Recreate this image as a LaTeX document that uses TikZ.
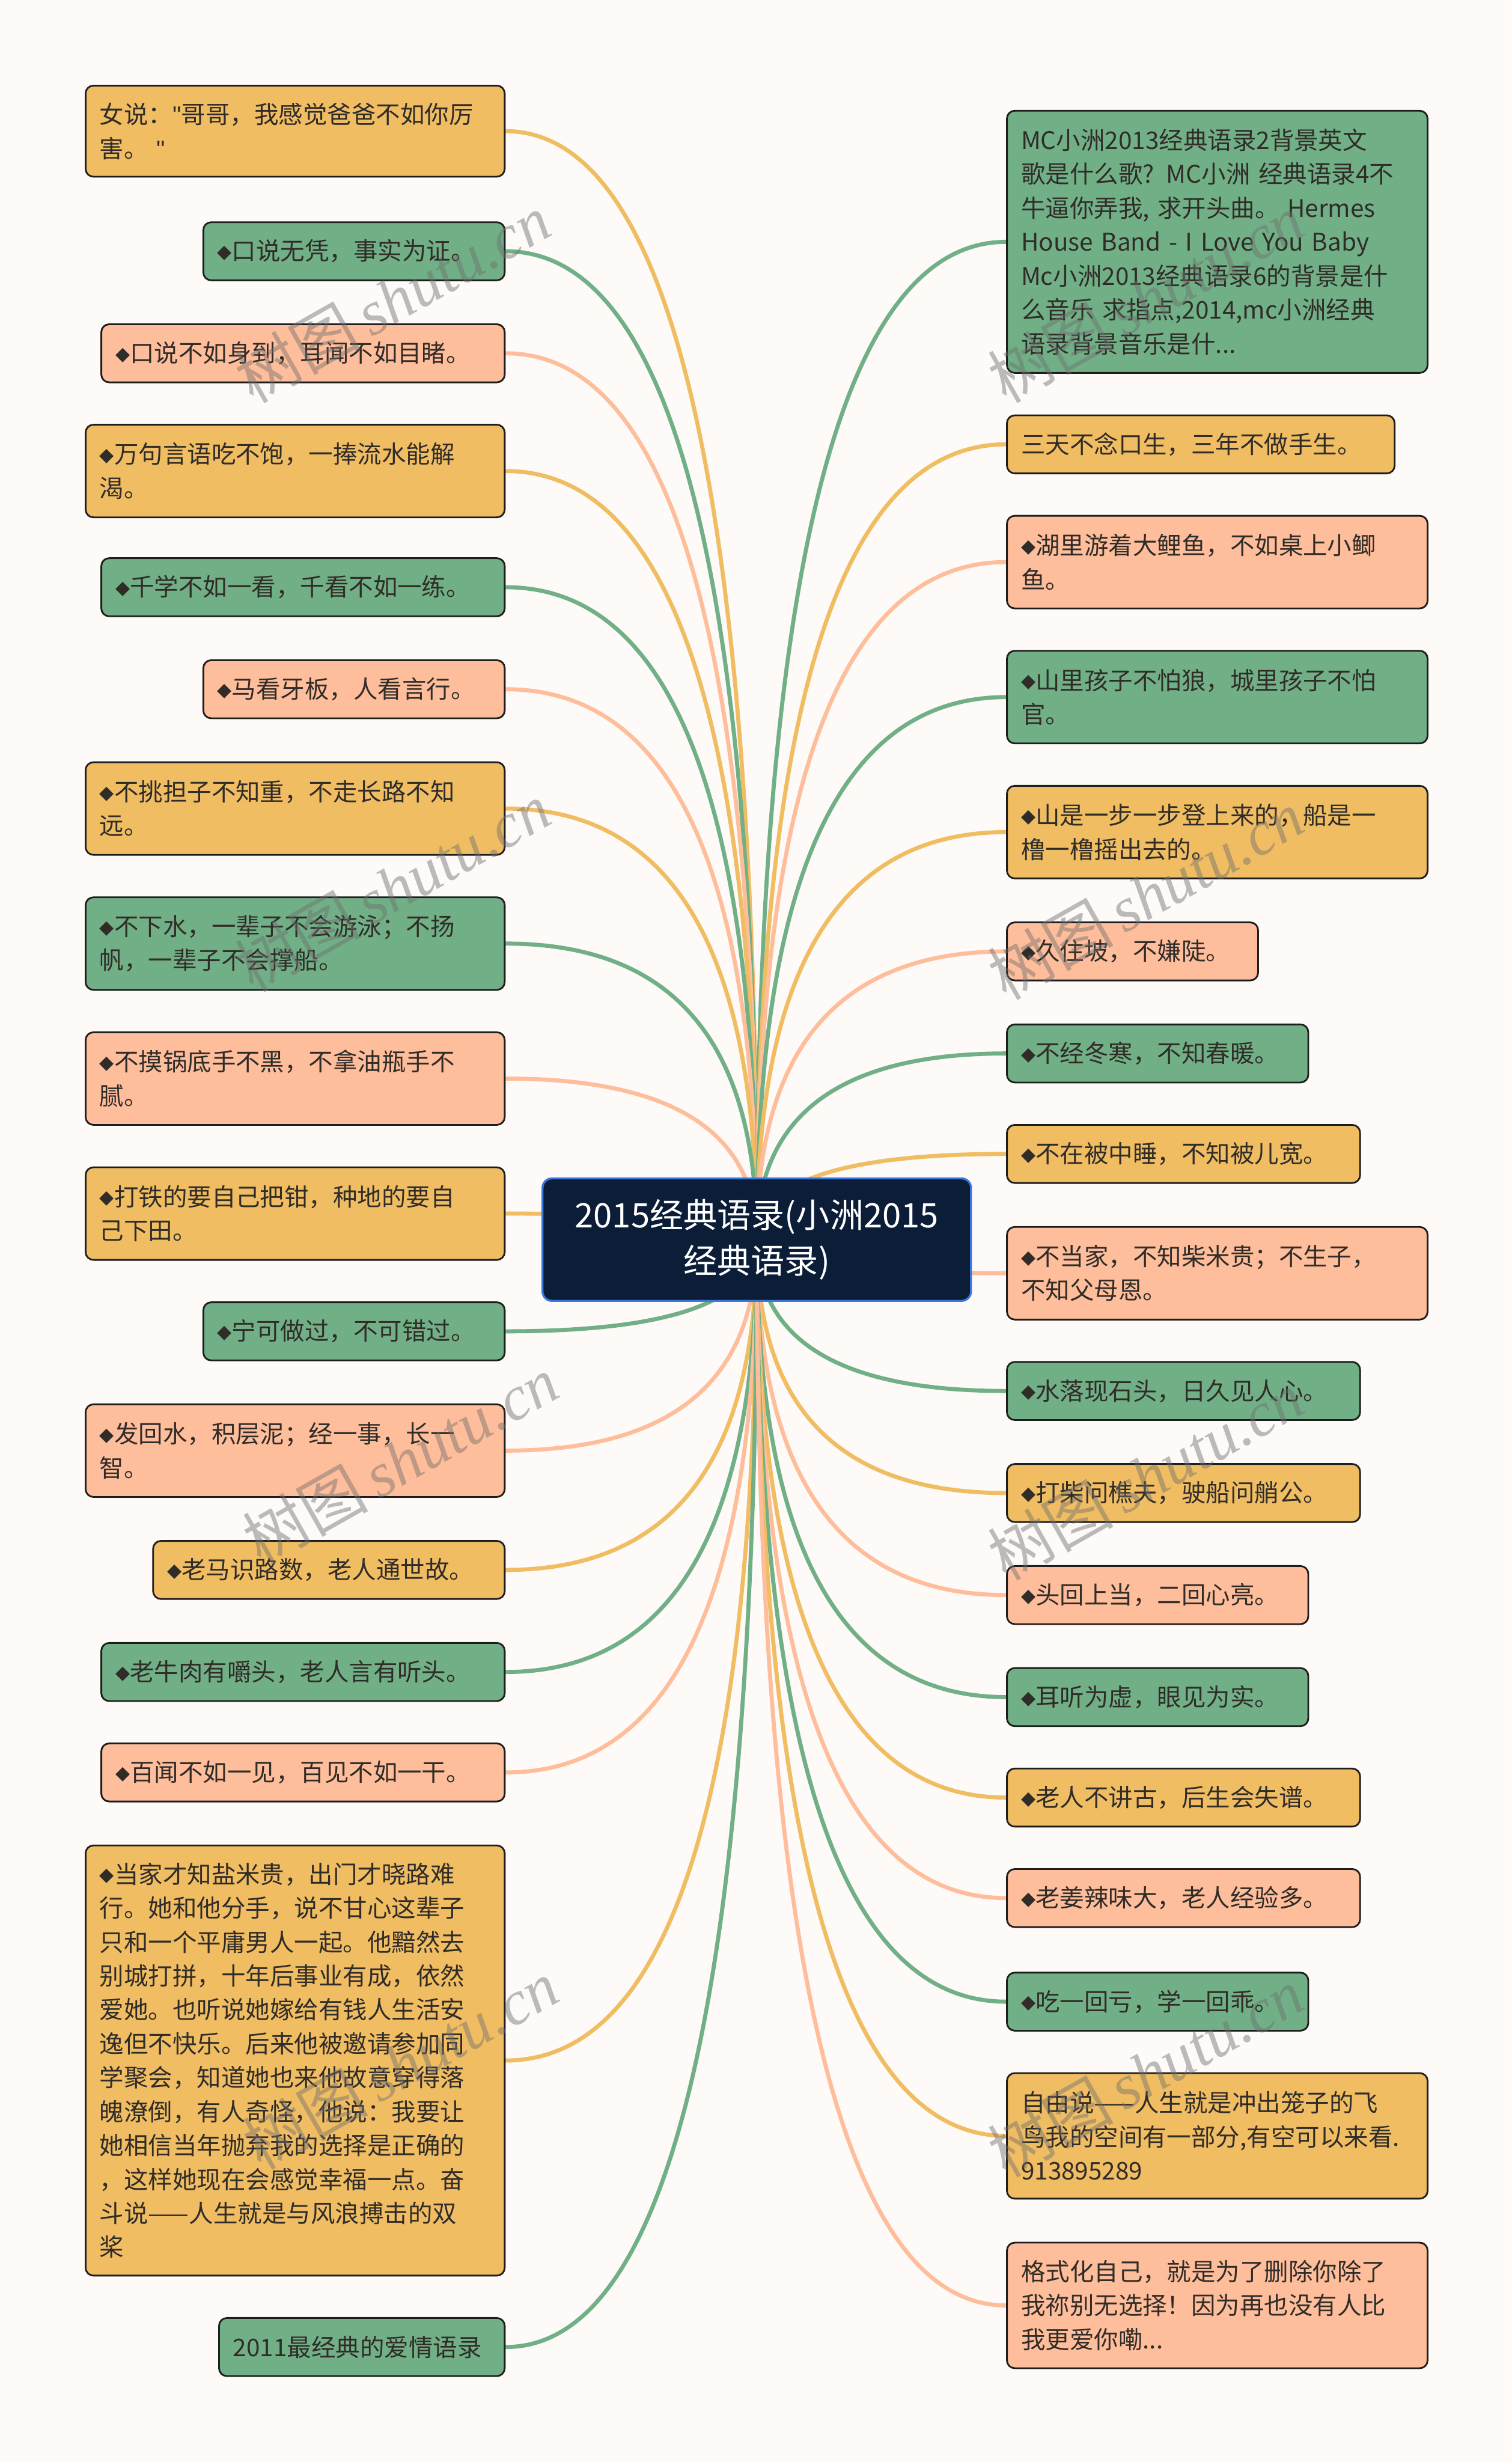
\documentclass[tikz,border=0pt]{standalone}
\usepackage{fontspec}
\setmainfont{Noto Sans CJK SC}
\newfontfamily\djv{DejaVu Sans}
\newfontfamily\lsans{Liberation Sans}
\newfontfamily\wmserif{Liberation Serif}
\usetikzlibrary{calc}
\definecolor{cO}{RGB}{240,189,99}
\definecolor{cG}{RGB}{113,176,135}
\definecolor{cS}{RGB}{255,190,155}
\definecolor{bgc}{RGB}{253,250,248}
\definecolor{txt}{RGB}{48,44,40}
\definecolor{bdr}{RGB}{30,30,30}
\definecolor{navy}{RGB}{12,29,56}
\definecolor{navyb}{RGB}{58,118,220}
\definecolor{wmc}{RGB}{110,110,110}
\newcommand\dm{\raisebox{1.3pt}{\djv\fontsize{12}{21.6}\selectfont ◆}}
\newcommand\qq{{\lsans\char"22}}
\pgfdeclarelayer{bglayer}
\pgfdeclarelayer{edgelayer}
\pgfsetlayers{bglayer,edgelayer,main}
\begin{document}
\begin{tikzpicture}[x=1pt,y=-1pt,
  bx/.style={draw=bdr, line width=1.1pt, rounded corners=5pt, anchor=north west,
    inner xsep=9pt, inner ysep=0pt, align=left, text=txt,
    font=\fontsize{15.5}{21.6}\selectfont},
  lk/.style={line width=2.6pt,
    to path={.. controls ($(\tikztostart)!0.667!(\tikztostart|-\tikztotarget)$)
      and ($(\tikztotarget)!0.667!(\tikztostart|-\tikztotarget)$) .. (\tikztotarget)}},
  wm/.style={rotate=29.5, text=wmc, text opacity=0.45,
    font=\fontsize{40}{40}\selectfont}
]
\useasboundingbox (0,0) rectangle (963,1568.3);
\begin{pgfonlayer}{bglayer}
\fill[bgc] (0,0) rectangle (963,1568.3);
\end{pgfonlayer}

% centre
\node[draw=navyb, line width=1.3pt, fill=navy, rounded corners=6pt, anchor=north west,
  minimum width=273pt, minimum height=78pt, text width=255pt, align=center, text=white,
  inner xsep=9pt, inner ysep=0pt, font=\fontsize{21.5}{29}\selectfont]
  (C) at (345,750) {2015经典语录(小洲2015\\经典语录)};

% left
\node[bx, fill=cO, text width=249pt, minimum height=58pt] (L1) at (54,54) {女说：\qq 哥哥，我感觉爸爸不如你厉\\害。 \qq};
\node[bx, fill=cG, text width=174pt, minimum height=37pt] (L2) at (129,141) {\dm 口说无凭，事实为证。};
\node[bx, fill=cS, text width=239pt, minimum height=37pt] (L3) at (64,206) {\dm 口说不如身到，耳闻不如目睹。};
\node[bx, fill=cO, text width=249pt, minimum height=59pt] (L4) at (54,270) {\dm 万句言语吃不饱，一捧流水能解\\渴。};
\node[bx, fill=cG, text width=239pt, minimum height=37pt] (L5) at (64,355) {\dm 千学不如一看，千看不如一练。};
\node[bx, fill=cS, text width=174pt, minimum height=37pt] (L6) at (129,420) {\dm 马看牙板，人看言行。};
\node[bx, fill=cO, text width=249pt, minimum height=59pt] (L7) at (54,485) {\dm 不挑担子不知重，不走长路不知\\远。};
\node[bx, fill=cG, text width=249pt, minimum height=59pt] (L8) at (54,571) {\dm 不下水，一辈子不会游泳；不扬\\帆，一辈子不会撑船。};
\node[bx, fill=cS, text width=249pt, minimum height=59pt] (L9) at (54,657) {\dm 不摸锅底手不黑，不拿油瓶手不\\腻。};
\node[bx, fill=cO, text width=249pt, minimum height=59pt] (L10) at (54,743) {\dm 打铁的要自己把钳，种地的要自\\己下田。};
\node[bx, fill=cG, text width=174pt, minimum height=37pt] (L11) at (129,829) {\dm 宁可做过，不可错过。};
\node[bx, fill=cS, text width=249pt, minimum height=59pt] (L12) at (54,894) {\dm 发回水，积层泥；经一事，长一\\智。};
\node[bx, fill=cO, text width=206pt, minimum height=37pt] (L13) at (97,981) {\dm 老马识路数，老人通世故。};
\node[bx, fill=cG, text width=239pt, minimum height=37pt] (L14) at (64,1046) {\dm 老牛肉有嚼头，老人言有听头。};
\node[bx, fill=cS, text width=239pt, minimum height=37pt] (L15) at (64,1110) {\dm 百闻不如一见，百见不如一干。};
\node[bx, fill=cO, text width=249pt, minimum height=274pt] (L16) at (54,1175) {\dm 当家才知盐米贵，出门才晓路难\\行。她和他分手，说不甘心这辈子\\只和一个平庸男人一起。他黯然去\\别城打拼，十年后事业有成，依然\\爱她。也听说她嫁给有钱人生活安\\逸但不快乐。后来他被邀请参加同\\学聚会，知道她也来他故意穿得落\\魄潦倒，有人奇怪，他说：我要让\\她相信当年抛弃我的选择是正确的\\，这样她现在会感觉幸福一点。奋\\斗说——人生就是与风浪搏击的双\\桨};
\node[bx, fill=cG, text width=164pt, minimum height=37pt] (L17) at (139,1476) {2011最经典的爱情语录};

% right
\node[bx, fill=cG, text width=250pt, minimum height=167pt] (R1) at (641,70) {MC小洲2013经典语录2背景英文\\歌是什么歌? MC小洲 经典语录4不\\牛逼你弄我, 求开头曲。 Hermes\\House Band - I Love You Baby\\Mc小洲2013经典语录6的背景是什\\么音乐 求指点,2014,mc小洲经典\\语录背景音乐是什...};
\node[bx, fill=cO, text width=229pt, minimum height=37pt] (R2) at (641,264) {三天不念口生，三年不做手生。};
\node[bx, fill=cS, text width=250pt, minimum height=59pt] (R3) at (641,328) {\dm 湖里游着大鲤鱼，不如桌上小鲫\\鱼。};
\node[bx, fill=cG, text width=250pt, minimum height=59pt] (R4) at (641,414) {\dm 山里孩子不怕狼，城里孩子不怕\\官。};
\node[bx, fill=cO, text width=250pt, minimum height=59pt] (R5) at (641,500) {\dm 山是一步一步登上来的，船是一\\橹一橹摇出去的。};
\node[bx, fill=cS, text width=142pt, minimum height=37pt] (R6) at (641,587) {\dm 久住坡，不嫌陡。};
\node[bx, fill=cG, text width=174pt, minimum height=37pt] (R7) at (641,652) {\dm 不经冬寒，不知春暖。};
\node[bx, fill=cO, text width=207pt, minimum height=37pt] (R8) at (641,716) {\dm 不在被中睡，不知被儿宽。};
\node[bx, fill=cS, text width=250pt, minimum height=59pt] (R9) at (641,781) {\dm 不当家，不知柴米贵；不生子，\\不知父母恩。};
\node[bx, fill=cG, text width=207pt, minimum height=37pt] (R10) at (641,867) {\dm 水落现石头，日久见人心。};
\node[bx, fill=cO, text width=207pt, minimum height=37pt] (R11) at (641,932) {\dm 打柴问樵夫，驶船问艄公。};
\node[bx, fill=cS, text width=174pt, minimum height=37pt] (R12) at (641,997) {\dm 头回上当，二回心亮。};
\node[bx, fill=cG, text width=174pt, minimum height=37pt] (R13) at (641,1062) {\dm 耳听为虚，眼见为实。};
\node[bx, fill=cO, text width=207pt, minimum height=37pt] (R14) at (641,1126) {\dm 老人不讲古，后生会失谱。};
\node[bx, fill=cS, text width=207pt, minimum height=37pt] (R15) at (641,1190) {\dm 老姜辣味大，老人经验多。};
\node[bx, fill=cG, text width=174pt, minimum height=37pt] (R16) at (641,1256) {\dm 吃一回亏，学一回乖。};
\node[bx, fill=cO, text width=250pt, minimum height=80pt] (R17) at (641,1320) {自由说——人生就是冲出笼子的飞\\鸟我的空间有一部分,有空可以来看.\\913895289};
\node[bx, fill=cS, text width=250pt, minimum height=80pt] (R18) at (641,1428) {格式化自己，就是为了删除你除了\\我祢别无选择！因为再也没有人比\\我更爱你嘞...};

% connectors
\begin{pgfonlayer}{edgelayer}
\draw[lk,cO] (C.center) to (L1.east);
\draw[lk,cG] (C.center) to (L2.east);
\draw[lk,cS] (C.center) to (L3.east);
\draw[lk,cO] (C.center) to (L4.east);
\draw[lk,cG] (C.center) to (L5.east);
\draw[lk,cS] (C.center) to (L6.east);
\draw[lk,cO] (C.center) to (L7.east);
\draw[lk,cG] (C.center) to (L8.east);
\draw[lk,cS] (C.center) to (L9.east);
\draw[lk,cO] (C.center) to (L10.east);
\draw[lk,cG] (C.center) to (L11.east);
\draw[lk,cS] (C.center) to (L12.east);
\draw[lk,cO] (C.center) to (L13.east);
\draw[lk,cG] (C.center) to (L14.east);
\draw[lk,cS] (C.center) to (L15.east);
\draw[lk,cO] (C.center) to (L16.east);
\draw[lk,cG] (C.center) to (L17.east);
\draw[lk,cG] (C.center) to (R1.west);
\draw[lk,cO] (C.center) to (R2.west);
\draw[lk,cS] (C.center) to (R3.west);
\draw[lk,cG] (C.center) to (R4.west);
\draw[lk,cO] (C.center) to (R5.west);
\draw[lk,cS] (C.center) to (R6.west);
\draw[lk,cG] (C.center) to (R7.west);
\draw[lk,cO] (C.center) to (R8.west);
\draw[lk,cS] (C.center) to (R9.west);
\draw[lk,cG] (C.center) to (R10.west);
\draw[lk,cO] (C.center) to (R11.west);
\draw[lk,cS] (C.center) to (R12.west);
\draw[lk,cG] (C.center) to (R13.west);
\draw[lk,cO] (C.center) to (R14.west);
\draw[lk,cS] (C.center) to (R15.west);
\draw[lk,cG] (C.center) to (R16.west);
\draw[lk,cO] (C.center) to (R17.west);
\draw[lk,cS] (C.center) to (R18.west);
\end{pgfonlayer}

% watermarks
\node[wm] (w1) at (250,190) {树图\,{\wmserif\itshape shutu.cn}};
\node[wm] (w2) at (250,565) {树图\,{\wmserif\itshape shutu.cn}};
\node[wm] (w3) at (255,930) {树图\,{\wmserif\itshape shutu.cn}};
\node[wm] (w4) at (255,1315) {树图\,{\wmserif\itshape shutu.cn}};
\node[wm] (w5) at (730,190) {树图\,{\wmserif\itshape shutu.cn}};
\node[wm] (w6) at (730,570) {树图\,{\wmserif\itshape shutu.cn}};
\node[wm] (w7) at (730,940) {树图\,{\wmserif\itshape shutu.cn}};
\node[wm] (w8) at (730,1320) {树图\,{\wmserif\itshape shutu.cn}};
\end{tikzpicture}
\end{document}
